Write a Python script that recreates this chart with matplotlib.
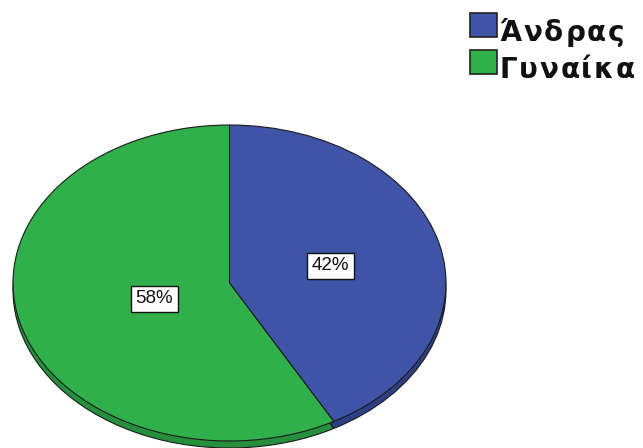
import numpy as np
import matplotlib.pyplot as plt
from matplotlib.patches import Rectangle

# Στοιχεία φύλου
labels = ['Άνδρας', 'Γυναίκα']
values = [42, 58]
colors = ['#3e54a6', '#2fb04b']
side_colors = ['#2d3f85', '#24903b']

# απόσταση ετικέτας από το κέντρο για κάθε τομέα
label_dist = [0.48, 0.36]

W, H = 643, 448
fig = plt.figure(figsize=(W / 100, H / 100), dpi=100)

# άξονες: η έλλειψη πιάνει x 13-446 px, y 125-441 px
px_top, px_bot = 125, 441
semi_h = (px_bot - px_top) / 2
ax = fig.add_axes([13 / W, 0, 433 / W, (H - px_top) / H])

depth = 7 / semi_h

# "πάχος" πίτας: σκουρότερο αντίγραφο λίγο πιο κάτω
ax.pie(values, colors=side_colors, startangle=90, counterclock=False,
       center=(0, -depth), radius=1,
       wedgeprops=dict(edgecolor='#1a1a1a', linewidth=0.8))
wedges, _ = ax.pie(values, colors=colors, startangle=90, counterclock=False,
                   center=(0, 0), radius=1,
                   wedgeprops=dict(edgecolor='#1a1a1a', linewidth=0.8))
# τεντώνουμε τον κύκλο σε έλλειψη
ax.set_aspect('auto')
ax.set_xlim(-1, 1)
ax.set_ylim(1 - (H - px_top) / semi_h, 1)
ax.axis('off')

total = sum(values)
for w, v, d in zip(wedges, values, label_dist):
    mid = np.deg2rad((w.theta1 + w.theta2) / 2)
    ax.text(d * np.cos(mid), d * np.sin(mid) - 0.01, f'{round(100 * v / total)}%',
            ha='center', va='center', fontsize=13.5, family='Liberation Sans',
            color='#111111',
            bbox=dict(boxstyle='square,pad=0.25', fc='white', ec='#111111', lw=1))

# υπόμνημα πάνω δεξιά, με λίγο αραιωμένα γράμματα
renderer = fig.canvas.get_renderer()
letter_gap = 2
for i, (lab, c) in enumerate(zip(labels, colors)):
    y0 = 13 + i * 37
    fig.patches.append(Rectangle((470 / W, 1 - (y0 + 24) / H), 27 / W, 24 / H,
                                 transform=fig.transFigure, fc=c,
                                 ec='#222222', lw=1.2))
    x = 499
    for ch in lab:
        t = fig.text(x / W, 1 - (y0 + 28) / H, ch, ha='left', va='baseline',
                     fontsize=20, fontweight='bold', family='DejaVu Sans',
                     color='#111111')
        x += t.get_window_extent(renderer).width + letter_gap

fig.savefig('out.png', dpi=100, facecolor='white')
